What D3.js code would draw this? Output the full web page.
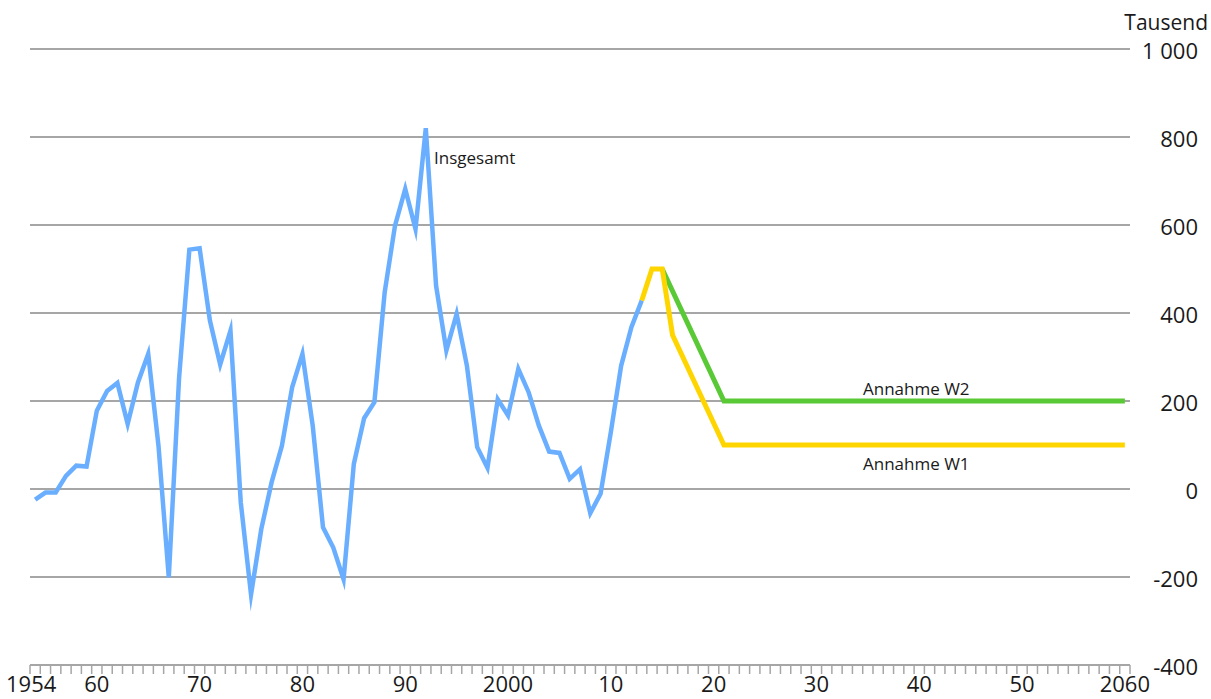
<!DOCTYPE html>
<html><head><meta charset="utf-8">
<script src="https://cdn.jsdelivr.net/npm/d3@7"></script>
<style>
html,body{margin:0;padding:0;background:#fff;}
text{font-family:"Open Sans","Noto Sans",sans-serif;fill:#1a1a1a;}
</style></head>
<body>
<svg id="chart" width="1211" height="699"></svg>
<script>
// Data (Tausend)
const histYears = d3.range(1954, 2014);
const histValues = [
  -24, -8, -8, 30, 53, 51, 178, 223, 241, 148,
  242, 307, 98, -201, 252, 544, 547, 383, 283, 360,
  -30, -240, -91, 15, 98, 231, 307, 144, -87, -133,
  -205, 57, 161, 197, 447, 598, 682, 591, 820, 462,
  315, 398, 280, 95, 48, 204, 167, 273, 220, 144,
  85, 82, 23, 45, -55, -11, 129, 280, 368, 428
];
const w1Years = [2013, 2014, 2015, 2016, 2021, 2060];
const w1Values = [428, 500, 500, 350, 100, 100];
const w2Years = [2015, 2021, 2060];
const w2Values = [500, 200, 200];
const yTicks = [-400, -200, 0, 200, 400, 600, 800, 1000];
const yTickLabels = ["-400", "-200", "0", "200", "400", "600", "800", "1 000"];
const xLabelYears = [1954, 1960, 1970, 1980, 1990, 2000, 2010, 2020, 2030, 2040, 2050, 2060];
const xLabels = ["1954", "60", "70", "80", "90", "2000", "10", "20", "30", "40", "50", "2060"];
const seriesLabels = ["Insgesamt", "Annahme W2", "Annahme W1"];
const unitLabel = "Tausend";

const svg = d3.select("#chart");
const allYears = d3.range(1954, 2061);
const x = d3.scaleBand().domain(allYears).range([30, 1130]).padding(0);
const xc = yr => x(yr) + x.bandwidth() / 2;
const y = d3.scaleLinear().domain([-400, 1000]).range([665, 49]);

// gridlines
svg.append("g").selectAll("line").data(yTicks.filter(v => v !== -400)).join("line")
  .attr("x1", 30).attr("x2", 1130)
  .attr("y1", d => y(d)).attr("y2", d => y(d))
  .attr("stroke", "#a6a6a6").attr("stroke-width", 2);

// right axis labels
svg.append("g").selectAll("text").data(yTicks).join("text")
  .attr("x", 1198).attr("y", d => y(d) + 1)
  .attr("text-anchor", "end").attr("dominant-baseline", "central")
  .style("font-size", "22px")
  .text((d, i) => yTickLabels[i]);
svg.append("text").attr("x", 1208).attr("y", 30).attr("text-anchor", "end")
  .style("font-size", "21px").text(unitLabel);

// bottom axis
const xAxisG = svg.append("g");
xAxisG.append("line").attr("x1", 30).attr("x2", 1130).attr("y1", 665).attr("y2", 665)
  .attr("stroke", "#a6a6a6").attr("stroke-width", 2);
const boundaries = allYears.map(yr => x(yr)).concat([x(2060) + x.bandwidth()]);
xAxisG.selectAll("line.tick").data(boundaries).join("line").attr("class", "tick")
  .attr("x1", d => d).attr("x2", d => d).attr("y1", 665).attr("y2", 674)
  .attr("stroke", "#a6a6a6").attr("stroke-width", 1.5);
xAxisG.selectAll("text").data(xLabelYears).join("text")
  .attr("x", d => xc(d) - (d === 1954 ? 4 : 0)).attr("y", 692)
  .attr("text-anchor", "middle").style("font-size", "22px")
  .text((d, i) => xLabels[i]);

const line = d3.line().x(d => xc(d[0])).y(d => y(d[1])).curve(d3.curveLinear);

svg.append("path").datum(d3.zip(w2Years, w2Values)).attr("d", line)
  .attr("fill", "none").attr("stroke", "#5ac936").attr("stroke-width", 5).attr("stroke-linejoin", "miter");
svg.append("path").datum(d3.zip(w1Years, w1Values)).attr("d", line)
  .attr("fill", "none").attr("stroke", "#ffd500").attr("stroke-width", 5).attr("stroke-linejoin", "miter");
svg.append("path").datum(d3.zip(histYears, histValues)).attr("d", line)
  .attr("fill", "none").attr("stroke", "#6aafff").attr("stroke-width", 4.5)
  .attr("stroke-linejoin", "miter").attr("stroke-miterlimit", 8);

// series labels
svg.append("text").attr("x", 434).attr("y", 164).style("font-size", "17px").text(seriesLabels[0]);
svg.append("text").attr("x", 863).attr("y", 395).style("font-size", "17px").text(seriesLabels[1]);
svg.append("text").attr("x", 863).attr("y", 470).style("font-size", "17px").text(seriesLabels[2]);
</script>
</body></html>
